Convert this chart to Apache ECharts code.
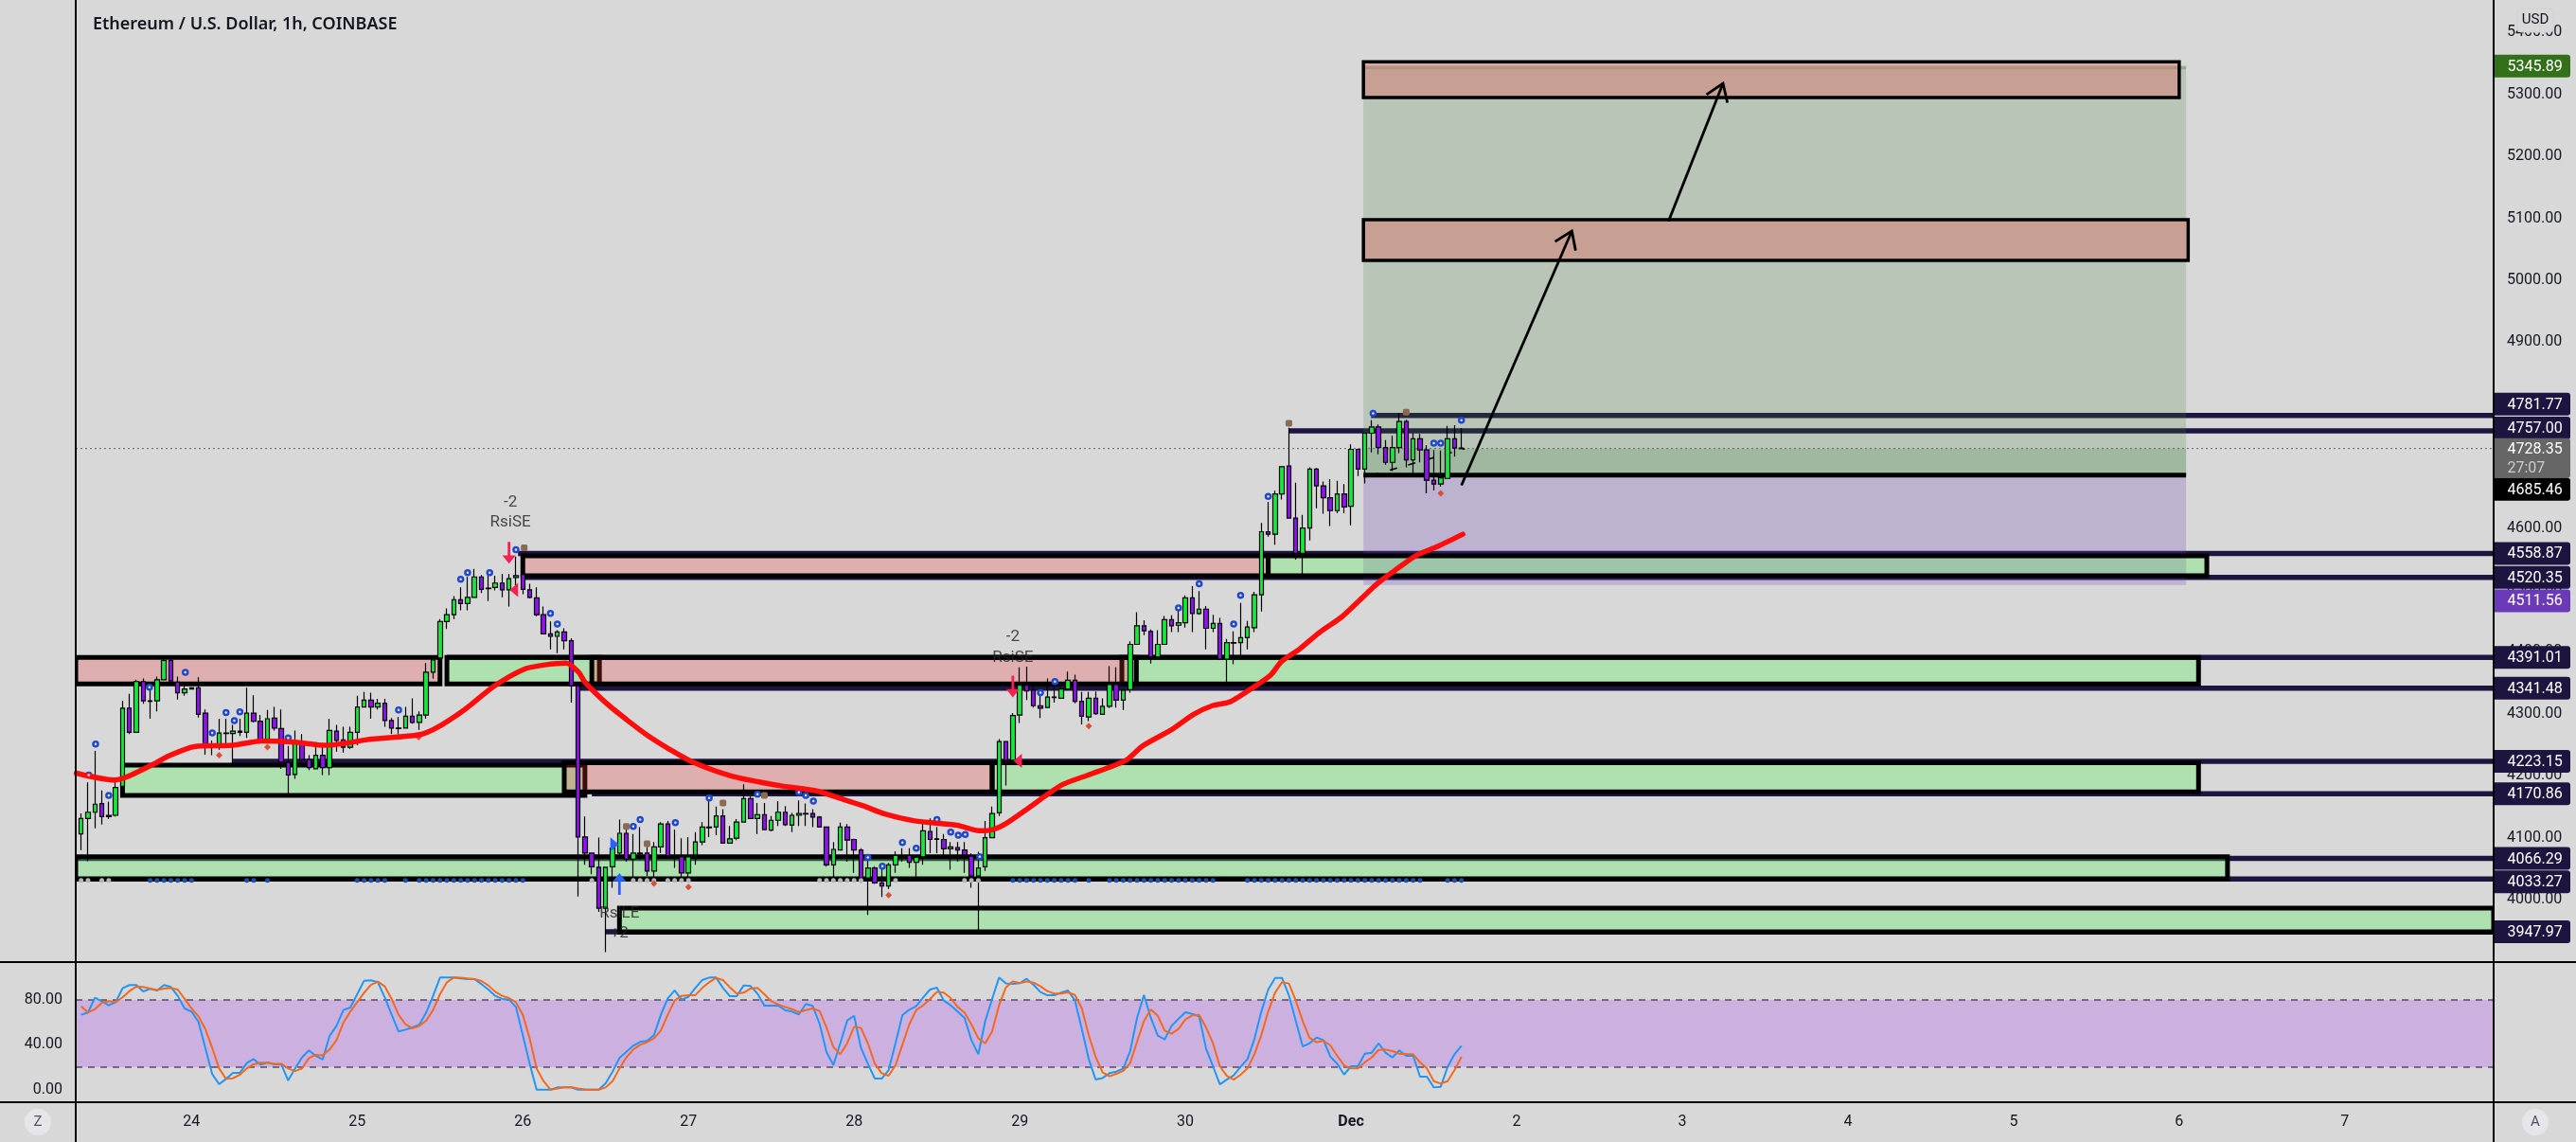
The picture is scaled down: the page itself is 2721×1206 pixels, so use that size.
<!DOCTYPE html>
<html>
<head>
<meta charset="utf-8">
<title>ETHUSD 1h</title>
<script src="https://cdn.jsdelivr.net/npm/echarts@6/dist/echarts.min.js"></script>
<style>
html, body { margin: 0; padding: 0; background: #d8d8d8; }
#main { width: 2721px; height: 1206px; }
</style>
</head>
<body>
<div id="main"></div>
<script>
// hourly candles: open, close, low, high
var candles = [
[4106,4131,4080,4139],[4131,4141,4062,4189],[4141,4154,4115,4240],[4155,4134,4121,4176],[4136,4134,4130,4158],
[4136,4181,4134,4191],[4183,4309,4167,4321],[4309,4270,4267,4332],[4270,4352,4270,4355],[4352,4321,4316,4357],
[4321,4320,4292,4345],[4321,4355,4304,4360],[4355,4386,4354,4389],[4386,4353,4348,4389],[4351,4334,4323,4360],
[4334,4340,4329,4351],[4342,4340,4339,4343],[4342,4299,4294,4359],[4301,4247,4234,4307],[4247,4246,4233,4257],
[4247,4269,4242,4292],[4269,4268,4248,4292],[4268,4272,4220,4282],[4272,4270,4264,4292],[4270,4301,4261,4342],
[4301,4288,4286,4330],[4288,4256,4254,4298],[4256,4292,4254,4306],[4293,4277,4273,4311],[4276,4222,4211,4307],
[4221,4201,4170,4248],[4202,4253,4195,4273],[4253,4226,4217,4267],[4226,4213,4209,4233],[4211,4233,4210,4254],
[4233,4213,4201,4248],[4213,4273,4201,4292],[4272,4257,4239,4282],[4258,4246,4237,4279],[4246,4270,4243,4279],
[4270,4311,4249,4329],[4311,4322,4310,4335],[4322,4311,4292,4334],[4311,4317,4307,4324],[4317,4289,4279,4324],
[4289,4277,4267,4293],[4277,4276,4267,4295],[4277,4296,4276,4311],[4296,4286,4284,4325],[4286,4298,4274,4304],
[4298,4367,4292,4382],[4367,4387,4357,4389],[4390,4449,4385,4453],[4449,4460,4437,4470],[4460,4484,4453,4490],
[4484,4478,4467,4504],[4478,4488,4467,4521],[4488,4521,4488,4534],[4521,4501,4495,4524],[4503,4502,4482,4529],
[4504,4511,4499,4523],[4511,4500,4488,4526],[4500,4518,4473,4526],[4520,4523,4507,4554],[4525,4501,4493,4526],
[4500,4488,4486,4510],[4487,4460,4457,4504],[4460,4429,4429,4473],[4429,4425,4404,4449],[4425,4432,4398,4435],
[4432,4418,4404,4438],[4418,4345,4318,4422],[4345,4101,4005,4346],[4101,4075,4056,4134],[4075,4053,4041,4076],
[4052,3986,3980,4100],[3986,4052,3915,4053],[4053,4083,4019,4093],[4075,4107,4072,4129],[4107,4065,4061,4117],
[4065,4075,4033,4106],[4075,4074,4064,4117],[4075,4046,4038,4085],[4046,4085,4035,4093],[4085,4122,4075,4125],
[4122,4071,4068,4127],[4071,4070,4051,4113],[4069,4043,4032,4099],[4043,4069,4030,4101],[4072,4093,4056,4109],
[4093,4117,4088,4125],[4117,4116,4101,4159],[4117,4135,4104,4150],[4135,4091,4090,4146],[4091,4098,4090,4119],
[4099,4125,4096,4130],[4125,4163,4124,4186],[4163,4131,4130,4167],[4131,4137,4106,4156],[4137,4113,4112,4156],
[4112,4128,4110,4135],[4128,4141,4119,4159],[4141,4121,4119,4151],[4120,4136,4109,4140],[4136,4139,4119,4160],
[4139,4138,4119,4155],[4139,4133,4117,4146],[4133,4117,4117,4135],[4117,4056,4053,4117],[4056,4081,4035,4093],
[4080,4117,4080,4124],[4117,4096,4061,4122],[4097,4080,4043,4098],[4080,4035,4027,4083],[4035,4051,3975,4067],
[4051,4027,4025,4054],[4027,4022,4004,4056],[4022,4056,4017,4059],[4056,4071,4043,4078],[4071,4070,4061,4083],
[4071,4060,4051,4083],[4060,4068,4037,4071],[4069,4111,4056,4125],[4110,4097,4075,4131],[4098,4097,4075,4117],
[4097,4082,4067,4106],[4082,4085,4048,4093],[4084,4080,4061,4093],[4080,4072,4043,4093],[4070,4038,4019,4075],
[4038,4051,3951,4077],[4053,4100,4046,4127],[4100,4139,4099,4150],[4140,4255,4135,4259],[4255,4225,4184,4256],
[4225,4297,4222,4301],[4298,4346,4285,4375],[4346,4337,4322,4376],[4338,4313,4310,4346],[4313,4309,4293,4330],
[4310,4327,4309,4357],[4327,4326,4318,4348],[4325,4340,4324,4343],[4340,4354,4338,4368],[4354,4320,4317,4363],
[4320,4296,4283,4335],[4295,4325,4288,4335],[4325,4300,4298,4336],[4299,4312,4298,4325],[4312,4347,4309,4377],
[4347,4322,4310,4375],[4322,4338,4306,4340],[4339,4412,4334,4417],[4412,4442,4412,4464],[4442,4434,4427,4451],
[4433,4392,4381,4436],[4392,4412,4390,4435],[4412,4452,4412,4458],[4452,4442,4432,4459],[4443,4447,4432,4467],
[4447,4487,4439,4491],[4487,4462,4432,4506],[4462,4469,4460,4498],[4469,4438,4404,4474],[4438,4446,4432,4460],
[4446,4388,4388,4455],[4388,4415,4351,4421],[4415,4414,4380,4433],[4415,4423,4392,4479],[4423,4440,4404,4450],
[4439,4492,4432,4497],[4492,4594,4465,4608],[4594,4590,4586,4642],[4590,4655,4573,4660],[4655,4699,4646,4700],
[4700,4616,4615,4762],[4616,4559,4549,4673],[4559,4600,4525,4621],[4600,4695,4580,4698],[4695,4668,4632,4697],
[4668,4649,4623,4675],[4649,4628,4603,4679],[4628,4655,4624,4676],[4655,4634,4624,4671],[4635,4727,4604,4735],
[4727,4695,4684,4728],[4695,4753,4672,4753],[4753,4763,4722,4774],[4763,4730,4719,4767],[4730,4706,4702,4742],
[4706,4730,4692,4749],[4730,4772,4721,4785],[4772,4710,4698,4775],[4710,4744,4688,4753],[4744,4726,4706,4752],
[4726,4677,4656,4734],[4677,4671,4661,4726],[4671,4681,4667,4725],[4680,4744,4680,4765],[4744,4729,4715,4766],
[4729,4728,4728,4761]
];

// red moving average, read as hand points
var emaIdx = [-0.7,4.8,6.6,10.9,12.7,16.4,21.9,26.2,31,35.4,42.1,48.9,51.3,55.6,59.9,64.2,67.2,70.3,72.1,73,76.1,79.1,82.2,85.2,88.6,94.4,101.2,106.7,109.8,113.4,116.5,120.8,126.9,130.3,132.1,134.2,137.3,142.1,145.9,151.4,153.8,158.1,161.2,163.9,166.6,171.1,172.5,173.9,176.6,179.4,182.6,185.3,188,190.8,193.5,196.7,200.2];
var emaVal = [4204,4193,4198,4221,4232,4247,4249,4256,4254,4249,4259,4266,4276,4307,4345,4372,4379,4382,4367,4351,4317,4290,4264,4243,4222,4199,4184,4175,4164,4151,4138,4127,4120,4111,4113,4124,4148,4185,4201,4225,4248,4275,4299,4313,4320,4352,4364,4384,4405,4431,4456,4484,4512,4535,4556,4571,4590];

// stochastic rsi
var kValues = [66.8,68.8,82,78.9,75.2,78,90.4,93.3,93.3,87.6,89.9,88.5,93.3,91.6,83.7,72.4,69.6,60.6,37.2,13.8,4.8,9.6,14.9,14.9,23.7,27.3,22.3,24.3,22.6,22.6,8.2,18.9,28.7,35,30.2,27,47.9,56.9,71,73.3,85.1,97.2,97.5,95.8,82.3,66.8,51.9,53.5,55.5,58,68.8,83.7,100,100,100,99.2,98.6,98.6,94.1,89.3,83.7,80.9,80.3,73.8,48.5,23.1,0,0,0,2,2,2,0,0,0,0,5.7,16.1,28.2,33.8,39.2,42.6,43.4,48.5,66.8,81.4,88.5,80.3,82.8,90.7,97.8,100,100,90.7,83.4,83.4,93,92.4,85.7,75,75,75,71,69.6,67.1,76.4,74.7,58.9,33.6,22,41.4,61.7,65.9,37.2,23.1,9.9,9.9,17.5,41.4,66.5,71.3,74.4,82.3,89.3,91,79.5,75.2,69.6,64,44.2,31.6,61.2,80.9,100,94.7,94.4,95,98.9,93.5,87.1,84.2,84.2,86.5,88.5,79.5,54.1,27.3,9,10.4,14.7,16.1,18.9,34.4,64,84.5,64,48.2,44.8,56.9,63.1,69,67.6,65.4,36.6,20.9,4.8,9,12.7,20.3,27.3,45.1,69.6,89.3,99.7,99.7,84.2,61.2,38.6,41.4,46.5,44.2,29.6,23.1,13.5,20.9,20.9,32.1,33,41.4,33,28.7,35,30.2,30.2,11.6,11.6,2,2.6,20.3,31.6,39.2];
var dValues = [74.4,69,71.8,77.5,78.9,78,82.3,87.9,91.9,91.6,90.2,88.8,90.2,90.7,89.3,80.9,72.4,65.4,54.1,37.2,18.9,9.6,10.2,13.3,18.9,22.6,24,24,23.1,23.1,18.9,16.6,18.9,28.2,31,30.7,35.8,44.2,59.7,69.6,78,86.5,93.5,96.4,92.1,80.9,66.8,58.3,54.7,56.9,61.7,71,85.1,95.8,100,99.9,99.2,98.6,96.9,93,87.3,83.7,81.7,78,66.8,45.7,18.9,7.6,0,1.1,2,2.3,1.1,0.3,0,0,2,7.6,18.9,28.7,35.8,40,42.3,45.7,52.7,66.8,79.5,83.7,84.3,84.3,90.7,95.8,99.7,97.8,91.3,85.7,86.5,90.2,90.7,85.1,78.9,76.1,73.8,71.8,69.3,71,72.4,70.2,55.5,38,31.6,41.4,56.1,55,41.4,23.1,14.7,12.4,21.7,40,58.3,71,75.2,80.9,87.3,86.5,81.7,73.8,68.8,58.3,45.7,41.4,51.9,75.2,91.3,96.6,95,96.4,95.5,92.1,87.9,85.7,85.7,86.8,84.5,72.4,48.5,29.3,15.5,11.9,14.1,16.9,23.7,42.8,61.2,71.6,65.9,52.7,49.9,54.1,62.6,66.2,66.8,55.5,41.4,20.9,12.4,9,13.3,18.9,31.6,48.5,69.6,86.5,95.8,94.7,79.5,61.2,46.2,42.3,43.7,39.5,30.2,21.7,18.9,18.9,24.5,28.7,35.5,35.8,34.4,32.1,31.6,31.6,24.5,18.9,7.6,5.4,7.6,17.5,29.3];

// axis ticks and labels
var priceTicks = [4000,4100,4200,4300,4400,4500,4600,4700,4800,4900,5000,5100,5200,5300,5400];
var oscTicks = [0,40,80];
var dayTicks = [16,40,64,88,112,136,160,184,208,232,256,280,304,328];
var dayNames = ['24','25','26','27','28','29','30','Dec','2','3','4','5','6','7'];

// supply and demand boxes: start, end, top, bottom
var pinkZones = [[-0.78,52,4391,4348],[74,152.9,4391,4348],[70,132,4221,4174],[64,172,4555,4523]];
var greenZones = [[53,75.1,4391,4348],[150.8,306.8,4391,4348],[6,73,4217,4168],[132,306.8,4221,4174],[-0.78,311,4069,4033],[78,349.56,3986,3947],[172,308,4555,4523]];
var targetZones = [[185.8,304,5353,5295],[185.8,305.3,5098,5032]];
var longBox = [[185.8,305,5347,4685.46]];
var longBoxOpen = [[185.8,305,4728.35,4685.46]];
var shortBox = [[185.8,305,4685.46,4508]];
var oscBand = [[-0.78,349.56,80,20]];

// level lines: start index, price
var levels = [[186.9,4781.77],[175,4757],[63.3,4558.87],[64,4520.35],[53,4391.01],[72,4341.48],[22,4223.15],[74,4170.86],[-0.78,4066.29],[-0.78,4033.27],[76,3947.97]];
var entryLine = [[185.8,4685.46]];
var targetLine = [[185.8,5343]];
var lastPriceLine = [[-0.78,4728.35]];
var oscLines = [[-0.78,80],[-0.78,20]];
var tradeDash = [[187,4685],[200.5,4728]];

// drawn arrows: from index, from price, to index, to price
var arrows = [[200,4669,216,5079.5],[230,5095,237.9,5318]];

// indicator marks
var blueMarks = [[1.1,4201],[2.1,4251],[4,4168],[9.9,4343],[15.1,4367],[19,4269],[21,4302],[22.2,4289],[23,4303],[30,4261],[46,4306],[55,4517],[56,4528],[59.2,4528],[63,4565],[68,4462],[69,4445],[80,4118],[81,4129],[86.1,4124],[91,4164],[98,4170],[104,4173],[105,4168],[106.1,4159],[114,4068],[116.1,4054],[119,4092],[121,4083],[124,4129],[126,4109],[127.1,4104],[128.1,4105],[130.2,4069],[139,4334],[141.1,4352],[159,4471],[162,4510],[167,4445],[168,4491],[172,4651],[187.2,4785],[196,4737],[197,4737],[200,4774]];
var brownMarks = [[64.2,4568],[79,4118],[82,4090],[93,4156],[99,4168],[175,4769],[192,4787]];
var rocketMarks = [[20,4233],[27,4246],[48.9,4262],[83,4026],[88,4020],[117,4007],[146,4280],[197,4656]];
var greyDots = [0,1,3,4,74,80,81,82,83,85,86,87,88,107,108,109,110,111,112,113,118,128,129,130];
var blueDots = [10,11,12,13,14,15,16,24,25,27,40,41,42,43,44,47,49,50,51,52,53,54,55,56,57,58,59,60,61,62,63,64,135,136,137,138,139,140,141,142,143,144,146,149,150,151,152,153,154,155,156,157,158,159,160,161,162,163,164,169,170,171,172,173,174,175,176,177,178,179,180,181,182,183,184,185,186,187,188,189,190,191,192,193,194,198,199,200];
var dotPrice = 4031;
var sellArrows = [[62,4560],[135,4344]];
var sellFlags = [[62.7,4500],[135.7,4224]];
var buyArrows = [[78,4025]];
var buyFlags = [[77.3,4089]];

// signal text
var signalText = ['-2','RsiSE','-2','RsiSE','RsiLE','+2'];
var signalX = [62.2,62.2,135,135,78,78];
var signalY = [4641,4609,4424,4390,3977,3945];

// price flags on the right scale
var flagPrices = [5345.89,4781.77,4757,4728.35,4685.46,4558.87,4520.35,4511.56,4391.01,4341.48,4223.15,4170.86,4066.29,4033.27,3947.97];
var flagKinds = ['target','level','level','last','entry','level','level','stop','level','level','level','level','level','level','level'];
var flagNudge = [0,-12,-3,0,15,0,0,19,0,0,0,0,0,3,0];
var countdown = '27:07';

var xMin = -0.78, xMax = 349.56;
var flagColor = { target: '#33701a', level: '#1e1440', last: '#666666', entry: '#000000', stop: '#6a3ab8' };
var numFont = 'Roboto, sans-serif';

var myChart = echarts.init(document.getElementById('main'));

function boxSeries(data, fill, stroke, width, axis) {
    return {
        type: 'custom',
        coordinateSystem: 'cartesian2d',
        xAxisIndex: axis || 0,
        yAxisIndex: axis || 0,
        clip: true,
        silent: true,
        encode: { x: [0, 1], y: [2, 3] },
        data: data,
        renderItem: function (params, api) {
            var a = api.coord([api.value(0), api.value(2)]);
            var b = api.coord([api.value(1), api.value(3)]);
            return {
                type: 'rect',
                shape: { x: a[0], y: a[1], width: b[0] - a[0], height: b[1] - a[1] },
                style: { fill: fill, stroke: stroke, lineWidth: width }
            };
        }
    };
}

// horizontal line from a start index out to endX
function levelSeries(data, endX, color, width, dash, axis) {
    return {
        type: 'custom',
        coordinateSystem: 'cartesian2d',
        xAxisIndex: axis || 0,
        yAxisIndex: axis || 0,
        clip: true,
        silent: true,
        encode: { x: 0, y: 1 },
        data: data,
        renderItem: function (params, api) {
            var a = api.coord([api.value(0), api.value(1)]);
            var b = api.coord([endX, api.value(1)]);
            return {
                type: 'line',
                shape: { x1: a[0], y1: a[1], x2: b[0], y2: b[1] },
                style: { stroke: color, lineWidth: width, lineDash: dash || null }
            };
        }
    };
}

function markSeries(data, symbol, size, color, rotate, z) {
    return {
        type: 'scatter',
        data: data,
        symbol: symbol,
        symbolSize: size,
        symbolRotate: rotate || 0,
        itemStyle: { color: color, opacity: 1 },
        z: z || 6,
        silent: true
    };
}

var downArrow = 'path://M4 0h2v13h4l-5 8l-5-8h4z';

var series = [
    boxSeries(oscBand, '#cbb0e0', 'none', 0, 1),
    levelSeries(oscLines, xMax, '#5a4a6a', 1.5, [7, 6], 1),
    levelSeries(levels, xMax, '#1e1440', 5.5),
    boxSeries(longBox, 'rgba(61,126,56,0.2)', 'none', 0),
    boxSeries(longBoxOpen, 'rgba(61,126,56,0.18)', 'none', 0),
    boxSeries(shortBox, 'rgba(103,58,183,0.24)', 'none', 0),
    boxSeries(greenZones, 'rgba(79,243,83,0.3)', '#000', 5),
    boxSeries(pinkZones, 'rgba(244,48,48,0.25)', '#000', 5),
    levelSeries(targetLine, 305, 'rgba(61,126,56,0.35)', 3),
    boxSeries(targetZones, 'rgba(215,122,112,0.5)', '#000', 3.5),
    levelSeries(entryLine, 305, '#000', 5),
    levelSeries(lastPriceLine, xMax, '#666', 1, [2, 3]),
    {
        type: 'line',
        data: tradeDash,
        symbol: 'none',
        silent: true,
        lineStyle: { color: '#000', width: 1.5, type: [8, 12] },
        z: 3
    },
    {
        type: 'candlestick',
        data: candles.map(function (c, i) { return [i, c[0], c[1], c[2], c[3]]; }),
        barWidth: 5,
        silent: true,
        z: 4,
        itemStyle: {
            color: '#17e83c',
            color0: '#9012ee',
            borderColor: '#000',
            borderColor0: '#000',
            borderColorDoji: '#000',
            borderWidth: 1.2
        }
    },
    {
        type: 'line',
        data: emaIdx.map(function (x, i) { return [x, emaVal[i]]; }),
        symbol: 'none',
        smooth: 0.25,
        silent: true,
        lineStyle: { color: '#ff0d0d', width: 5.5, cap: 'round', join: 'round' },
        z: 7
    },
    markSeries(greyDots.map(function (i) { return [i, dotPrice]; }), 'circle', 5, '#b5b5b5'),
    markSeries(blueDots.map(function (i) { return [i, dotPrice]; }), 'circle', 5, '#1c4fa8'),
    markSeries(blueMarks, 'circle', 7.5, '#2048c8', 0, 6),
    markSeries(blueMarks, 'circle', 2.5, '#dfe8ff', 0, 7),
    markSeries(brownMarks, 'roundRect', 7, '#8a6a50'),
    markSeries(rocketMarks, 'diamond', 7, '#d8503a'),
    markSeries(sellArrows, downArrow, [14, 23], '#f7204f'),
    markSeries(sellFlags, 'triangle', [15, 9], '#f7204f', 90),
    markSeries(buyArrows, downArrow, [14, 23], '#2962ff', 180),
    markSeries(buyFlags, 'triangle', [15, 9], '#2962ff', -90),
    {
        type: 'custom',
        coordinateSystem: 'cartesian2d',
        clip: false,
        silent: true,
        encode: { x: [0, 2], y: [1, 3] },
        data: arrows,
        z: 8,
        renderItem: function (params, api) {
            var a = api.coord([api.value(0), api.value(1)]);
            var b = api.coord([api.value(2), api.value(3)]);
            var ang = Math.atan2(b[1] - a[1], b[0] - a[0]);
            var len = 21;
            function arm(d) {
                return [b[0] - len * Math.cos(ang + d), b[1] - len * Math.sin(ang + d)];
            }
            var style = { stroke: '#000', lineWidth: 2.8, fill: 'none' };
            return {
                type: 'group',
                children: [
                    { type: 'line', shape: { x1: a[0], y1: a[1], x2: b[0], y2: b[1] }, style: style },
                    { type: 'polyline', shape: { points: [arm(0.6), b, arm(-0.6)] }, style: style }
                ]
            };
        }
    },
    {
        type: 'scatter',
        data: signalText.map(function (t, i) { return { value: [signalX[i], signalY[i]], name: t }; }),
        symbolSize: 0,
        silent: true,
        z: 9,
        label: {
            show: true,
            position: 'inside',
            formatter: '{b}',
            color: '#222',
            fontFamily: numFont,
            fontSize: 17
        }
    },
    {
        type: 'custom',
        coordinateSystem: 'cartesian2d',
        clip: false,
        silent: true,
        encode: { x: 0, y: 1 },
        z: 20,
        data: flagPrices.map(function (p) { return [xMax, p]; }),
        renderItem: function (params, api) {
            var i = params.dataIndex;
            var p = api.coord([api.value(0), api.value(1)]);
            var kind = flagKinds[i];
            var y = p[1] + flagNudge[i];
            var h = kind === 'last' ? 42 : 24;
            var top = kind === 'last' ? y - 11 : y - 12;
            var kids = [
                { type: 'rect', shape: { x: p[0], y: top, width: 81, height: h, r: [0, 3, 3, 0] }, style: { fill: flagColor[kind] } },
                { type: 'text', style: { text: api.value(1).toFixed(2), x: p[0] + 14.5, y: y + 1, fill: '#fff', font: '16px ' + numFont, verticalAlign: 'middle' } }
            ];
            if (kind === 'last') {
                kids.push({ type: 'text', style: { text: countdown, x: p[0] + 14.5, y: y + 21, fill: '#cccccc', font: '16px ' + numFont, verticalAlign: 'middle' } });
            }
            return { type: 'group', children: kids };
        }
    },
    {
        type: 'line',
        xAxisIndex: 1,
        yAxisIndex: 1,
        data: kValues.map(function (v, i) { return [i, v]; }),
        symbol: 'none',
        silent: true,
        lineStyle: { color: '#2196f3', width: 2 },
        z: 4
    },
    {
        type: 'line',
        xAxisIndex: 1,
        yAxisIndex: 1,
        data: dValues.map(function (v, i) { return [i, v]; }),
        symbol: 'none',
        silent: true,
        lineStyle: { color: '#f4691e', width: 2 },
        z: 5
    }
];

var option = {
    animation: false,
    backgroundColor: '#d8d8d8',
    title: {
        text: 'Ethereum / U.S. Dollar, 1h, COINBASE',
        left: 93,
        top: 12,
        textStyle: { color: '#131722', fontSize: 18, fontWeight: 600, fontFamily: 'Noto Sans, sans-serif' }
    },
    grid: [
        { left: 80, right: 87, top: 0, height: 1016 },
        { left: 80, right: 87, top: 1016, height: 148 }
    ],
    xAxis: [
        {
            type: 'value', gridIndex: 0, min: xMin, max: xMax,
            axisLine: { show: false }, axisTick: { show: false }, axisLabel: { show: false }, splitLine: { show: false }
        },
        {
            type: 'value', gridIndex: 1, min: xMin, max: xMax,
            axisLine: { show: false }, axisTick: { show: false }, splitLine: { show: false },
            axisLabel: {
                customValues: dayTicks,
                margin: 13,
                color: '#131722',
                fontFamily: numFont,
                fontSize: 16,
                formatter: function (v) {
                    var name = dayNames[dayTicks.indexOf(v)];
                    return name === 'Dec' ? '{b|Dec}' : name;
                },
                rich: { b: { fontWeight: 'bold', fontFamily: numFont, fontSize: 16, color: '#131722' } }
            }
        }
    ],
    yAxis: [
        {
            type: 'value', gridIndex: 0, position: 'right', min: 3899, max: 5452.6,
            axisLine: { show: false }, axisTick: { show: false }, splitLine: { show: false },
            axisLabel: {
                customValues: priceTicks,
                margin: 14,
                color: '#131722',
                fontFamily: numFont,
                fontSize: 16,
                padding: [2, 0, 0, 0],
                formatter: function (v) { return v.toFixed(2); }
            }
        },
        {
            type: 'value', gridIndex: 1, position: 'left', min: -11.2, max: 113.8,
            axisLine: { show: false }, axisTick: { show: false }, splitLine: { show: false },
            axisLabel: {
                customValues: oscTicks,
                margin: 14,
                color: '#131722',
                fontFamily: numFont,
                fontSize: 16,
                padding: [2, 0, 0, 0],
                formatter: function (v) { return v.toFixed(2); }
            }
        }
    ],
    // frame lines and the small corner buttons
    graphic: [
        { type: 'line', z: 30, shape: { x1: 0, y1: 1016, x2: 2721, y2: 1016 }, style: { stroke: '#000', lineWidth: 2 } },
        { type: 'line', z: 30, shape: { x1: 0, y1: 1164, x2: 2721, y2: 1164 }, style: { stroke: '#000', lineWidth: 2 } },
        { type: 'line', z: 30, shape: { x1: 80, y1: 0, x2: 80, y2: 1206 }, style: { stroke: '#000', lineWidth: 2 } },
        { type: 'line', z: 30, shape: { x1: 2634, y1: 0, x2: 2634, y2: 1206 }, style: { stroke: '#000', lineWidth: 2 } },
        { type: 'rect', z: 30, shape: { x: 2659, y: 9, width: 38, height: 25, r: 4 }, style: { fill: '#d8d8d8', stroke: '#d0d0d4', lineWidth: 1 } },
        { type: 'text', z: 31, style: { text: 'USD', x: 2678, y: 21, fill: '#131722', font: '15px ' + numFont, align: 'center', verticalAlign: 'middle' } },
        { type: 'circle', z: 30, shape: { cx: 40, cy: 1185, r: 14 }, style: { fill: '#e6e6ea' } },
        { type: 'text', z: 31, style: { text: 'Z', x: 40, y: 1185, fill: '#50535e', font: '15px ' + numFont, align: 'center', verticalAlign: 'middle' } },
        { type: 'circle', z: 30, shape: { cx: 2678, cy: 1185, r: 14 }, style: { fill: '#e6e6ea' } },
        { type: 'text', z: 31, style: { text: 'A', x: 2678, y: 1185, fill: '#50535e', font: '15px ' + numFont, align: 'center', verticalAlign: 'middle' } }
    ],
    series: series
};

myChart.setOption(option);
</script>
</body>
</html>
